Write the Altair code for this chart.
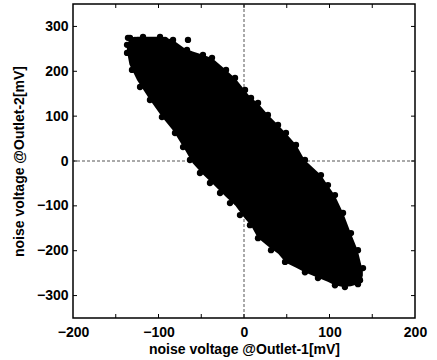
import altair as alt
import pandas as pd

# Cloud outline: for each x, the upper and lower edge of the dense cloud
area_x = [-137, -134, -125, -110, -95, -83, -70, -60, -48, -37, -21, -10, 1, 8, 16, 28, 40, 49, 61, 71, 90, 98, 106, 116, 125, 133, 137, 139]
area_top = [255, 274, 277, 277, 277, 270, 252, 244, 237, 229, 203, 184, 158, 141, 130, 103, 80, 62, 36, 2, -31, -54, -76, -116, -161, -199, -230, -245]
area_bot = [245, 215, 180, 136, 96, 68, 28, -5, -30, -50, -80, -100, -128, -143, -171, -190, -207, -227, -238, -248, -263, -269, -277, -281, -279, -275, -268, -255]

# Individual dots along the fuzzy edge of the cloud
edge_x = [-136.8, -133.3, -118.1, -98.2, -83.0, -66.7, -48.0, -37.4, -21.0, -10.5, 1.2, 8.2, 16.4, 28.0, 39.8, 49.1,
          60.8, 71.3, 90.0, 98.2, 106.4, 115.8, 125.1, 133.3, 139.2, 135.7,
          -136.8, -131.0, -121.6, -110.0, -96.0, -80.7, -71.3, -63.2, -51.5, -39.8, -28.0, -16.4, -4.7, 7.0, 16.4,
          31.6, 48.0, 71.3, 86.5, 106.4, 118.0, 133.3,
          -135.7, -127.5, -106.4, -92.4, -65.5]
edge_y = [259, 274.6, 276.8, 276.8, 270, 247.8, 236.6, 230, 203, 185, 158.5, 140.6, 129.5, 102.7, 80.4, 62.5,
          35.7, 2.2, -31.3, -53.6, -75.9, -116, -160.7, -198.7, -238.8, -265.6,
          241, 203, 165, 136, 98, 62.5, 31, 2.2, -26.8, -49, -71.4, -93.8, -120.5, -143, -172,
          -198.7, -225, -248, -261, -277, -281, -274.5,
          274.6, 270, 265.6, 270, 270]

x_minor_ticks = [-150, -100, -50, 0, 50, 100, 150]
y_minor_ticks = [-300, -200, -100, 0, 100, 200, 300]
x_labels = [-200, -100, 0, 100, 200]
y_labels = [-300, -200, -100, 0, 100, 200, 300]
zero_line = [0]

W, H = 342, 314
FONT = "Liberation Sans"
xs = alt.Scale(domain=[-200, 200], nice=False, zero=False)
ys = alt.Scale(domain=[-350, 350], nice=False, zero=False)

area_df = pd.DataFrame({"x": area_x, "top": area_top, "bot": area_bot})
edge_df = pd.DataFrame({"x": edge_x, "y": edge_y})
xt_df = pd.DataFrame({"x": x_minor_ticks})
yt_df = pd.DataFrame({"y": y_minor_ticks})
zero_df = pd.DataFrame({"x": zero_line, "y": zero_line})

XT = "noise voltage @Outlet-1[mV]"
YT = "noise voltage @Outlet-2[mV]"
x_axis = alt.Axis(values=x_labels, ticks=False, domain=False, grid=False, labelFlush=False,
                  labelFont=FONT, labelFontSize=14, labelFontWeight="bold", labelColor="black",
                  labelPadding=7, title=XT, titleFont=FONT,
                  titleFontSize=14, titleFontWeight="bold", titleColor="black", titlePadding=3)
y_axis = alt.Axis(values=y_labels, ticks=False, domain=False, grid=False,
                  labelFont=FONT, labelFontSize=14, labelFontWeight="bold", labelColor="black",
                  labelPadding=5, title=YT, titleFont=FONT,
                  titleFontSize=14, titleFontWeight="bold", titleColor="black", titlePadding=10)


def X(f):
    return alt.X(f, scale=xs, axis=x_axis, title=XT)


def Y(f):
    return alt.Y(f, scale=ys, axis=y_axis, title=YT)


vline = alt.Chart(zero_df).mark_rule(color="#555555", strokeDash=[3, 2], strokeWidth=1).encode(x=X("x:Q"))
hline = alt.Chart(zero_df).mark_rule(color="#555555", strokeDash=[3, 2], strokeWidth=1).encode(y=Y("y:Q"))

cloud = alt.Chart(area_df).mark_area(color="black", opacity=1).encode(
    x=X("x:Q"), y=Y("top:Q"), y2="bot:Q")

dots = alt.Chart(edge_df).mark_circle(color="black", opacity=1, size=40).encode(
    x=X("x:Q"), y=Y("y:Q"))

xt_bottom = alt.Chart(xt_df).mark_rule(color="black", strokeWidth=1).encode(
    x=X("x:Q"), y=alt.value(H), y2=alt.value(H - 4))
xt_top = alt.Chart(xt_df).mark_rule(color="black", strokeWidth=1).encode(
    x=X("x:Q"), y=alt.value(0), y2=alt.value(4))
yt_left = alt.Chart(yt_df).mark_rule(color="black", strokeWidth=1).encode(
    y=Y("y:Q"), x=alt.value(0), x2=alt.value(4))
yt_right = alt.Chart(yt_df).mark_rule(color="black", strokeWidth=1).encode(
    y=Y("y:Q"), x=alt.value(W), x2=alt.value(W - 4))

chart = alt.layer(vline, hline, cloud, dots, xt_bottom, xt_top, yt_left, yt_right).properties(
    width=W, height=H,
    autosize=alt.AutoSizeParams(type="none"),
    padding={"left": 73, "top": 4, "right": 22, "bottom": 42},
    background="white",
).configure_view(stroke="black", strokeWidth=1.5)

chart.save("out.html", embed_options={"renderer": "svg", "actions": False})
